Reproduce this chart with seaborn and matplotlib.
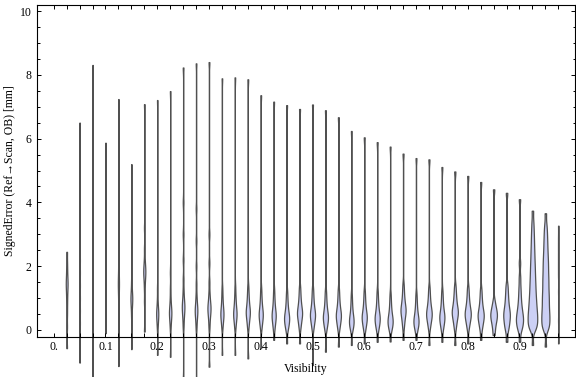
import numpy as np
import pandas as pd
import matplotlib
matplotlib.use("Agg")
import matplotlib.pyplot as plt
from matplotlib.ticker import FixedLocator, MultipleLocator
import seaborn as sns

# visibility bin centres
visibility = [0.025, 0.05, 0.075, 0.1, 0.125, 0.15, 0.175, 0.2, 0.225, 0.25,
              0.275, 0.3, 0.325, 0.35, 0.375, 0.4, 0.425, 0.45, 0.475, 0.5,
              0.525, 0.55, 0.575, 0.6, 0.625, 0.65, 0.675, 0.7, 0.725, 0.75,
              0.775, 0.8, 0.825, 0.85, 0.875, 0.9, 0.925, 0.95, 0.975]

# smallest / largest signed error in each bin [mm]
err_min = [-0.57, -1.02, -1.6, -0.1, -1.13, -0.6, -0.05, -0.78, -0.84, -1.6,
           -1.7, -1.15, -0.78, -0.78, -0.89, -0.57, -0.31, -0.42, -0.42, -1.1,
           -0.68, -0.52, -0.47, -0.42, -0.37, -0.36, -0.31, -0.31, -0.47, -0.37,
           -0.47, -0.42, -0.31, -0.16, -0.37, -0.37, -0.47, -0.52, -0.42]
err_max = [2.45, 6.5, 8.31, 5.87, 7.24, 5.2, 7.08, 7.21, 7.49, 8.23,
           8.36, 8.40, 7.89, 7.92, 7.86, 7.36, 7.16, 7.05, 6.93, 7.07,
           6.89, 6.67, 6.24, 6.04, 5.89, 5.75, 5.53, 5.39, 5.35, 5.11,
           4.97, 4.83, 4.64, 4.41, 4.30, 4.10, 3.74, 3.66, 3.27]

# the bulk of the errors in each bin
err_bulk = [
    [0.1, 0.5, 0.8, 1.05, 1.25, 1.4, 1.5, 1.65, 1.85, 2.1],
    [0.2, 0.6, 1.0, 1.4, 1.8, 2.2],
    [0.3, 0.8, 1.3, 1.8, 2.3],
    [0.3, 0.8, 1.3, 1.8, 2.3, 2.7],
    [0.3, 0.8, 1.1, 1.3, 1.45, 1.6, 1.8, 2.1, 2.6],
    [0.4, 0.65, 0.8, 0.9, 0.98, 1.05, 1.15, 1.3, 1.55, 2.2],
    [0.9, 1.3, 1.55, 1.7, 1.8, 1.9, 2.0, 2.2, 2.55, 3.2],
    [0.05, 0.22, 0.34, 0.43, 0.5, 0.56, 0.64, 0.76, 0.95, 1.3],
    [0.05, 0.25, 0.37, 0.46, 0.53, 0.6, 0.68, 0.8, 1.0, 1.3, 1.8],
    [0.1, 0.35, 0.5, 0.62, 0.7, 0.78, 0.88, 1.02, 1.25, 1.6, 2.2, 3.0, 4.0],
    [0.05, 0.28, 0.42, 0.52, 0.6, 0.67, 0.76, 0.9, 1.1, 1.45, 2.0, 2.8, 3.8],
    [0.08, 0.32, 0.47, 0.58, 0.66, 0.73, 0.82, 0.95, 1.15, 1.5, 2.1, 3.0],
    [0.05, 0.2, 0.3, 0.38, 0.45, 0.5, 0.55, 0.61, 0.7, 0.8, 0.93, 1.1, 1.32],
    [0.05, 0.2, 0.31, 0.39, 0.45, 0.5, 0.56, 0.62, 0.7, 0.81, 0.94, 1.1, 1.35],
    [0.05, 0.22, 0.33, 0.42, 0.5, 0.55, 0.6, 0.66, 0.75, 0.86, 0.99, 1.15, 1.37],
    [0.04, 0.18, 0.28, 0.36, 0.43, 0.48, 0.53, 0.59, 0.68, 0.78, 0.91, 1.08, 1.3],
    [0.02, 0.15, 0.25, 0.33, 0.4, 0.45, 0.5, 0.56, 0.64, 0.75, 0.88, 1.05, 1.27],
    [0.0, 0.1, 0.19, 0.26, 0.32, 0.37, 0.42, 0.48, 0.56, 0.67, 0.8, 0.97, 1.2],
    [0.05, 0.2, 0.31, 0.4, 0.47, 0.52, 0.57, 0.63, 0.72, 0.82, 0.95, 1.12, 1.34],
    [0.03, 0.17, 0.27, 0.35, 0.42, 0.47, 0.52, 0.58, 0.66, 0.77, 0.9, 1.07, 1.29],
    [0.0, 0.12, 0.21, 0.29, 0.35, 0.4, 0.45, 0.51, 0.59, 0.7, 0.83, 1.0, 1.22],
    [0.02, 0.15, 0.25, 0.33, 0.4, 0.45, 0.5, 0.56, 0.64, 0.75, 0.88, 1.05, 1.27],
    [0.0, 0.07, 0.14, 0.2, 0.26, 0.3, 0.35, 0.41, 0.49, 0.6, 0.73, 0.9, 1.12],
    [0.0, 0.12, 0.21, 0.29, 0.35, 0.4, 0.45, 0.51, 0.59, 0.7, 0.83, 1.0, 1.22],
    [0.0, 0.1, 0.19, 0.26, 0.32, 0.37, 0.42, 0.48, 0.56, 0.67, 0.8, 0.97, 1.2],
    [0.0, 0.07, 0.14, 0.2, 0.26, 0.3, 0.35, 0.41, 0.49, 0.6, 0.73, 0.9, 1.12],
    [0.08, 0.25, 0.37, 0.47, 0.55, 0.6, 0.65, 0.71, 0.8, 0.9, 1.03, 1.2, 1.42],
    [0.0, 0.07, 0.14, 0.2, 0.26, 0.3, 0.35, 0.41, 0.49, 0.6, 0.73, 0.9, 1.12],
    [0.05, 0.2, 0.3, 0.38, 0.45, 0.5, 0.55, 0.61, 0.7, 0.8, 0.93, 1.1, 1.32],
    [0.0, 0.12, 0.21, 0.29, 0.35, 0.4, 0.45, 0.51, 0.59, 0.7, 0.83, 1.0, 1.22],
    [0.05, 0.22, 0.33, 0.42, 0.5, 0.55, 0.6, 0.66, 0.75, 0.86, 0.99, 1.15, 1.37],
    [0.05, 0.2, 0.3, 0.38, 0.45, 0.5, 0.55, 0.61, 0.7, 0.8, 0.93, 1.1, 1.32],
    [0.02, 0.15, 0.25, 0.33, 0.4, 0.45, 0.5, 0.56, 0.64, 0.75, 0.88, 1.05, 1.27],
    [0.05, 0.2, 0.3, 0.38, 0.44, 0.5, 0.56, 0.64, 0.74, 0.9],
    [0.0, 0.12, 0.22, 0.32, 0.4, 0.47, 0.54, 0.62, 0.72, 0.85, 1.0, 1.18, 1.4],
    [0.0, 0.08, 0.16, 0.24, 0.3, 0.36, 0.42, 0.5, 0.58, 0.68, 0.8, 0.95, 1.13,
     1.35, 1.65, 2.1],
    [0.0, 0.05, 0.1, 0.15, 0.2, 0.25, 0.3, 0.35, 0.4, 0.45, 0.5, 0.55, 0.6, 0.66,
     0.72, 0.78, 0.84, 0.9, 0.97, 1.04, 1.11, 1.18, 1.26, 1.34, 1.42, 1.5, 1.59,
     1.68, 1.77, 1.87, 1.97, 2.07, 2.18, 2.3, 2.42, 2.55, 2.69, 2.84, 3.0, 3.18,
     3.4],
    [0.0, 0.06, 0.12, 0.18, 0.24, 0.3, 0.36, 0.42, 0.48, 0.54, 0.6, 0.67, 0.74,
     0.81, 0.88, 0.95, 1.02, 1.09, 1.16, 1.24, 1.32, 1.4, 1.48, 1.56, 1.64, 1.72,
     1.81, 1.9, 1.99, 2.08, 2.17, 2.27, 2.37, 2.48, 2.6, 2.72, 2.85, 2.99, 3.14,
     3.32],
    [0.3, 1.2, 1.7, 2.0, 2.3, 2.6, 2.9],
]

# relative violin width per bin (how fat each violin looks), in pixels
violin_px = [2.7, 1.5, 1.3, 1.5, 2.0, 2.7, 3.0, 3.0, 3.3, 3.5,
             3.5, 4.0, 4.0, 4.3, 5.0, 5.0, 5.0, 6.0, 6.0, 6.0,
             6.0, 6.0, 5.5, 6.0, 6.0, 6.0, 6.0, 6.0, 6.5, 6.0,
             7.0, 7.0, 7.0, 7.5, 7.5, 8.0, 10.5, 9.0, 1.5]

rows = []
for v, lo, hi, bulk in zip(visibility, err_min, err_max, err_bulk):
    for e in [lo] + bulk + [hi]:
        rows.append((v, e))
df = pd.DataFrame(rows, columns=["visibility", "error"])

plt.rcParams["font.family"] = ["Liberation Serif", "DejaVu Serif"]
plt.rcParams["font.size"] = 8.5

fig, ax = plt.subplots(figsize=(5.76, 3.77), dpi=100)
fig.subplots_adjust(left=36.5 / 576, right=574.5 / 576, bottom=40 / 377, top=372 / 377)

px_per_unit = 517.5
for (v, grp), w in zip(df.groupby("visibility"), violin_px):
    bw = 0.15 / np.std(grp["error"], ddof=1)
    sns.violinplot(x=grp["visibility"], y=grp["error"], native_scale=True, orient="x",
                   width=max(w - 0.9, 0.3) / px_per_unit, cut=0, inner=None,
                   bw_method=bw, gridsize=400, density_norm="width",
                   color="#ccd0f5", saturation=1, linecolor="#505050",
                   linewidth=0.9, ax=ax)

for c in ax.collections:
    c.set_clip_on(False)

ax.set_xlim(-0.0333, 1.0063)
ax.set_ylim(-0.22, 10.19)

majors = [0, 0.1, 0.2, 0.3, 0.4, 0.5, 0.6, 0.7, 0.8, 0.9]
ax.xaxis.set_major_locator(FixedLocator(majors))
ax.set_xticklabels(["0.", "0.1", "0.2", "0.3", "0.4", "0.5", "0.6", "0.7", "0.8", "0.9"])
ax.xaxis.set_minor_locator(FixedLocator(visibility))
ax.yaxis.set_major_locator(MultipleLocator(2))
ax.yaxis.set_minor_locator(MultipleLocator(0.5))

ax.tick_params(axis="x", which="both", direction="in", length=2.9, width=0.7,
               top=True, bottom=True, pad=3)
ax.tick_params(axis="y", which="major", direction="in", length=3.2, width=0.7,
               left=True, right=True, pad=3.5)
ax.tick_params(axis="y", which="minor", direction="in", length=1.8, width=0.7,
               left=True, right=True)
for s in ax.spines.values():
    s.set_linewidth(0.8)

ax.set_xlabel("Visibility", labelpad=7)
ax.set_ylabel("SignedError (Ref\u2192Scan, OB) [mm]", labelpad=3)

fig.savefig("out.png", dpi=100)
